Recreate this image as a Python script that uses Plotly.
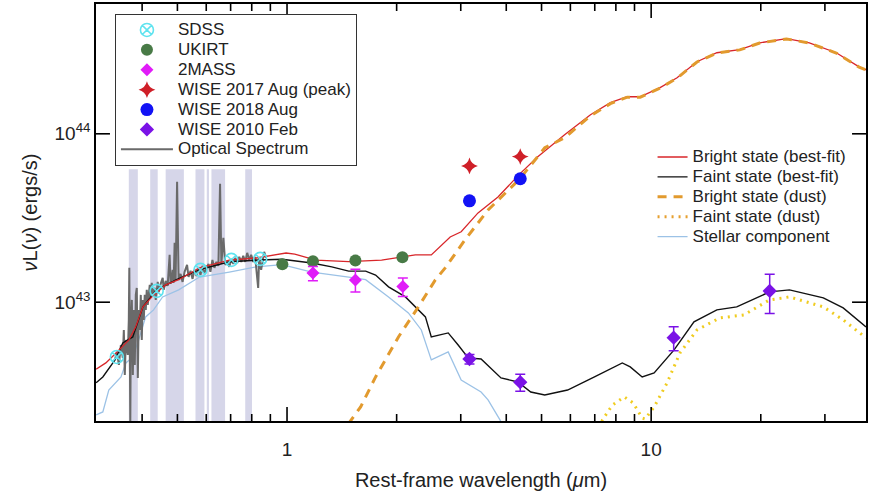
import plotly.graph_objects as go

S = 1e43  # luminosity unit used in the arrays below (erg/s)

# ---------------- photometry ----------------
sdss_wl = [0.341, 0.4385, 0.5786, 0.7031, 0.8438]
sdss_L = [0.473, 1.167, 1.556, 1.784, 1.808]

ukirt_wl = [0.9708, 1.178, 1.541, 2.074]
ukirt_L = [1.682, 1.753, 1.768, 1.851]

tmass_wl = [1.178, 1.541, 2.080]
tmass_L = [1.49, 1.357, 1.24]
tmass_err_hi = [0.137, 0.213, 0.15]
tmass_err_lo = [0.15, 0.207, 0.16]

wise17_wl = [3.17, 4.37]
wise17_L = [6.45, 7.33]

wise18_wl = [3.17, 4.37]
wise18_L = [4.00, 5.41]

wise10_wl = [3.17, 4.37, 11.53, 21.16]
wise10_L = [0.460, 0.335, 0.616, 1.167]
wise10_err_hi = [0.029, 0.038, 0.100, 0.30]
wise10_err_lo = [0.030, 0.039, 0.102, 0.31]

# ---------------- masked regions (micron) ----------------
band_lo = [0.3677, 0.4210, 0.4642, 0.5606, 0.6020, 0.6200, 0.7677]
band_hi = [0.3893, 0.4414, 0.5208, 0.5932, 0.6104, 0.6759, 0.8013]
band_top = 6.17

# ---------------- model curves ----------------
red_wl = [0.299, 0.318, 0.335, 0.368, 0.384, 0.402, 0.4304, 0.4642, 0.504, 0.575,
          0.694, 0.823, 0.994, 1.05, 1.200, 1.477, 1.818, 2.0, 2.251, 2.490, 2.806,
          3.008, 3.346, 3.796, 4.358, 4.882, 5.785, 6.814, 7.727, 8.597, 9.33,
          10.58, 11.78, 13.36, 15.15, 17.51, 19.86, 23.53, 27.19, 32.23, 37.24, 38.92]
red_L = [0.40, 0.436, 0.486, 0.597, 0.713, 0.938, 1.105, 1.267, 1.36, 1.60,
         1.78, 1.83, 1.96, 1.93, 1.78, 1.74, 1.78, 1.83, 1.91, 1.91, 2.44,
         2.62, 3.39, 4.22, 5.785, 7.30, 9.87, 12.97, 15.3, 16.6, 16.6,
         18.8, 21.5, 26.8, 30.3, 31.6, 34.7, 36.7, 34.7, 30.3, 25.0, 24.0]

black_wl = [0.299, 0.312, 0.337, 0.354, 0.377, 0.402, 0.4385, 0.497, 0.575, 0.694,
            0.8385, 0.969, 1.170, 1.327, 1.477, 1.644, 1.751, 1.900, 2.114, 2.295,
            2.399, 2.490, 2.771, 2.951, 3.144, 3.411, 3.869, 4.305, 4.671, 5.103,
            5.895, 6.988, 8.332, 8.76, 9.448, 10.19, 11.56, 13.11, 15.15, 17.18,
            21.14, 23.98, 29.70, 33.68, 38.92]
black_L = [0.332, 0.360, 0.454, 0.573, 0.622, 0.938, 1.183, 1.36, 1.56, 1.74,
           1.78, 1.80, 1.71, 1.62, 1.53, 1.53, 1.45, 1.233, 1.075, 0.900,
           0.818, 0.622, 0.657, 0.557, 0.467, 0.460, 0.355, 0.336, 0.293, 0.281,
           0.301, 0.360, 0.436, 0.413, 0.360, 0.380, 0.521, 0.764, 0.900, 0.938,
           1.151, 1.183, 1.060, 0.925, 0.713]

bright_dust_wl = [1.387, 1.593, 1.751, 2.023, 2.295, 2.554, 2.719, 3.084, 3.565, 4.358,
                  5.103, 5.785, 6.814, 7.727, 8.597, 9.33, 10.58, 11.78, 13.36, 15.15,
                  17.51, 19.86, 23.53, 27.19, 32.23, 37.24, 38.92]
bright_dust_L = [0.158, 0.239, 0.360, 0.622, 0.938, 1.357, 1.60, 2.35, 3.53, 5.40,
                 8.26, 9.47, 12.8, 15.1, 16.5, 16.5, 18.7, 21.4, 26.7, 30.2,
                 31.5, 34.6, 36.6, 34.6, 30.2, 24.9, 23.9]

faint_dust_wl = [7.121, 7.349, 7.824, 8.437, 8.93, 9.448, 9.63, 10.19, 11.06, 12.00,
                 13.36, 15.44, 17.96, 21.14, 23.98, 29.70, 33.68, 38.92]
faint_dust_L = [0.163, 0.200, 0.245, 0.274, 0.252, 0.205, 0.2025, 0.239, 0.332, 0.500,
                0.684, 0.807, 0.840, 1.032, 1.075, 0.938, 0.785, 0.614]

stellar_wl = [0.299, 0.312, 0.324, 0.339, 0.350, 0.361, 0.377, 0.3915, 0.409, 0.430,
              0.4553, 0.504, 0.575, 0.694, 0.823, 0.969, 1.170, 1.477, 1.644, 1.900,
              2.154, 2.338, 2.490, 2.771, 3.008, 3.411, 3.565, 3.844, 3.967]
stellar_L = [0.214, 0.223, 0.301, 0.332, 0.360, 0.436, 0.473, 0.597, 0.818, 0.900,
             1.075, 1.183, 1.41, 1.51, 1.62, 1.67, 1.51, 1.41, 1.36, 1.075,
             0.864, 0.684, 0.454, 0.507, 0.345, 0.293, 0.263, 0.200, 0.174]

# ---------------- optical spectrum ----------------
spec_wl = [0.3368, 0.3410, 0.3453, 0.3497, 0.3540, 0.3563, 0.3585, 0.3608, 0.3654, 0.3677,
           0.3689, 0.3712, 0.3724, 0.3748, 0.3772, 0.3795, 0.3819, 0.3843, 0.3867, 0.3893,
           0.3917, 0.3941, 0.3966, 0.3991, 0.4016, 0.4042, 0.4067, 0.4093, 0.4119, 0.4145,
           0.4198, 0.4224, 0.4251, 0.4278, 0.4332, 0.4360, 0.4415, 0.4443, 0.4499, 0.4556,
           0.4585, 0.4642, 0.4701, 0.4760, 0.4790, 0.4820, 0.4851, 0.4882, 0.4913, 0.4943,
           0.4990, 0.5038, 0.5101, 0.5166, 0.5232, 0.5315, 0.5365, 0.5433, 0.5502, 0.5571,
           0.5642, 0.5714, 0.5786, 0.5860, 0.5933, 0.6008, 0.6085, 0.6161, 0.6239, 0.6318,
           0.6398, 0.6479, 0.6548, 0.6602, 0.6686, 0.6770, 0.6856, 0.6943, 0.7031, 0.7119,
           0.7210, 0.7301, 0.7393, 0.7487, 0.7582, 0.7677, 0.7774, 0.7873, 0.7972, 0.8073,
           0.8175, 0.8332, 0.8385, 0.8490, 0.8598, 0.8653, 0.8762]
spec_L = [0.454, 0.507, 0.424, 0.557, 0.467, 0.684, 0.370, 0.597, 0.486, 0.785,
          1.599, 0.19, 0.684, 1.032, 0.370, 0.900, 0.424, 1.105, 1.216, 0.355,
          0.900, 0.684, 1.105, 0.597, 1.032, 0.785, 1.105, 0.900, 1.183, 0.964,
          1.267, 1.060, 1.302, 1.105, 1.216, 1.032, 1.320, 1.151, 1.285, 1.394,
          1.183, 1.339, 1.250, 1.910, 1.285, 1.375, 1.556, 1.302, 2.251, 1.339,
          5.186, 1.357, 1.473, 1.320, 1.514, 1.666, 1.413, 1.535, 1.375, 1.556,
          1.433, 1.599, 1.453, 1.643, 1.493, 1.599, 1.689, 1.514, 1.784, 1.599,
          1.736, 1.643, 5.046, 1.689, 2.411, 1.666, 1.736, 1.621, 1.808, 1.689,
          1.833, 1.712, 1.858, 1.736, 1.884, 1.736, 1.963, 1.784, 1.910, 1.736,
          1.858, 1.216, 1.833, 1.556, 1.910, 1.990, 1.833]

# ---------------- tick setup ----------------
x_major = [1, 10]
x_major_text = ["1", "10"]
x_minor = [0.4, 0.5, 0.6, 0.7, 0.8, 0.9, 2, 3, 4, 5, 6, 7, 8, 9, 20, 30]
y_major = [1e43, 1e44]
y_major_text = ["10<sup>43</sup>", "10<sup>44</sup>"]

X_RANGE = [-0.5246, 1.590]        # log10 of micron
Y_RANGE = [42.2945, 44.7709]      # log10 of erg/s
PLOT_W, PLOT_H = 772, 417         # plotting area in px (for tick lengths)

FONT = "Liberation Sans, Arial, Helvetica, sans-serif"


def sc(v):
    return [a * S for a in v]


def lg(t):
    # legend label drawn at 17px while the legend rows keep a compact spacing
    return "<span style='font-size:17px'>" + t + "</span>"


fig = go.Figure()

# shaded masked regions
for a, b in zip(band_lo, band_hi):
    fig.add_trace(go.Scatter(
        x=[a, a, b, b, a], y=sc([0.1, band_top, band_top, 0.1, 0.1]),
        mode="lines", fill="toself", fillcolor="rgb(214,214,233)",
        line=dict(width=0), showlegend=False, hoverinfo="skip"))

fig.add_trace(go.Scatter(x=stellar_wl, y=sc(stellar_L), mode="lines",
                         line=dict(color="#9cc2e6", width=1.3),
                         name=lg("Stellar component"), legend="legend2", legendrank=5))
fig.add_trace(go.Scatter(x=spec_wl, y=sc(spec_L), mode="lines",
                         line=dict(color="#6a6a6a", width=2),
                         name=lg("Optical Spectrum"), legendrank=7))
fig.add_trace(go.Scatter(x=black_wl, y=sc(black_L), mode="lines",
                         line=dict(color="#111111", width=1.4),
                         name=lg("Faint state (best-fit)"), legend="legend2", legendrank=2))
fig.add_trace(go.Scatter(x=red_wl, y=sc(red_L), mode="lines",
                         line=dict(color="#d8262a", width=1.3),
                         name=lg("Bright state (best-fit)"), legend="legend2", legendrank=1))
fig.add_trace(go.Scatter(x=bright_dust_wl, y=sc(bright_dust_L), mode="lines",
                         line=dict(color="#e29a2e", width=3, dash="9px,7px"),
                         name=lg("Bright state (dust)"), legend="legend2", legendrank=3))
fig.add_trace(go.Scatter(x=faint_dust_wl, y=sc(faint_dust_L), mode="lines",
                         line=dict(color="#f0cc20", width=3, dash="2px,5px"),
                         name="Faint state (dust)", showlegend=False))
fig.add_trace(go.Scatter(x=[None], y=[None], mode="lines",
                         line=dict(color="#e6a030", width=3, dash="2px,5px"),
                         name=lg("Faint state (dust)"), legend="legend2", legendrank=4))

fig.add_trace(go.Scatter(x=sdss_wl, y=sc(sdss_L), mode="markers", name=lg("SDSS"),
                         marker=dict(symbol="circle-x-open", size=13, color="#5fe3ef",
                                     line=dict(width=1.6)), legendrank=1))
fig.add_trace(go.Scatter(x=ukirt_wl, y=sc(ukirt_L), mode="markers", name=lg("UKIRT"),
                         marker=dict(symbol="circle", size=12, color="#487a46"), legendrank=2))
fig.add_trace(go.Scatter(x=tmass_wl, y=sc(tmass_L), mode="markers", name=lg("2MASS"),
                         marker=dict(symbol="diamond", size=10, color="#e01cf8"),
                         error_y=dict(type="data", array=sc(tmass_err_hi), arrayminus=sc(tmass_err_lo),
                                      color="#e01cf8", thickness=1.5, width=5),
                         legendrank=3))
fig.add_trace(go.Scatter(x=wise17_wl, y=sc(wise17_L), mode="markers", name=lg("WISE 2017 Aug (peak)"),
                         marker=dict(symbol="star-diamond", size=12, color="#cf1f28"), legendrank=4))
fig.add_trace(go.Scatter(x=wise18_wl, y=sc(wise18_L), mode="markers", name=lg("WISE 2018 Aug"),
                         marker=dict(symbol="circle", size=13, color="#1212f5"), legendrank=5))
fig.add_trace(go.Scatter(x=wise10_wl, y=sc(wise10_L), mode="markers", name=lg("WISE 2010 Feb"),
                         marker=dict(symbol="diamond", size=11, color="#7a12e6"),
                         error_y=dict(type="data", array=sc(wise10_err_hi), arrayminus=sc(wise10_err_lo),
                                      color="#7a12e6", thickness=1.5, width=5),
                         legendrank=6))

# inward tick marks on all four sides, drawn as one line trace through the axes' scales
ylo, yhi = Y_RANGE
xlo, xhi = X_RANGE
tx, ty = [], []
for v, ln in [(t, 14) for t in x_major] + [(t, 7) for t in x_minor]:
    d = ln / PLOT_H * (yhi - ylo)
    tx += [v, v, None, v, v, None]
    ty += [10 ** ylo, 10 ** (ylo + d), None, 10 ** yhi, 10 ** (yhi - d), None]
for v in y_major:
    d = 14 / PLOT_W * (xhi - xlo)
    tx += [10 ** xlo, 10 ** (xlo + d), None, 10 ** xhi, 10 ** (xhi - d), None]
    ty += [v, v, None, v, v, None]
fig.add_trace(go.Scatter(x=tx, y=ty, mode="lines", line=dict(color="black", width=1.6),
                         showlegend=False, hoverinfo="skip", cliponaxis=False,
                         connectgaps=False))

fig.update_layout(
    width=870, height=495,
    margin=dict(l=96, r=2, t=4, b=74),
    paper_bgcolor="white", plot_bgcolor="white",
    font=dict(family=FONT, color="#222"),
    xaxis=dict(type="log", range=X_RANGE,
               showline=True, linecolor="black", linewidth=1.5, mirror=True,
               ticks="", showgrid=False, zeroline=False,
               tickmode="array", tickvals=x_major, ticktext=x_major_text,
               ticklabelstandoff=10,
               tickfont=dict(family=FONT, size=19, color="#222"),
               title=dict(text="Rest-frame wavelength (<i>μ</i>m)",
                          font=dict(family=FONT, size=20, color="#222"), standoff=14)),
    yaxis=dict(type="log", range=Y_RANGE,
               showline=True, linecolor="black", linewidth=1.5, mirror=True,
               ticks="", showgrid=False, zeroline=False,
               tickmode="array", tickvals=y_major, ticktext=y_major_text,
               tickfont=dict(family=FONT, size=19, color="#222"),
               title=dict(text="<i>ν</i>L(<i>ν</i>) (ergs/s)",
                          font=dict(family=FONT, size=20, color="#222"), standoff=12)),
    legend=dict(x=0.0246, y=0.976, xanchor="left", yanchor="top",
                bordercolor="#333", borderwidth=1, bgcolor="white",
                font=dict(family=FONT, size=13, color="#222"),
                itemwidth=52, tracegroupgap=0),
    legend2=dict(x=0.7228, y=0.669, xanchor="left", yanchor="top",
                 bgcolor="rgba(255,255,255,0)", borderwidth=0,
                 font=dict(family=FONT, size=13, color="#222"),
                 itemwidth=30),
)

fig.write_html("out.html")
